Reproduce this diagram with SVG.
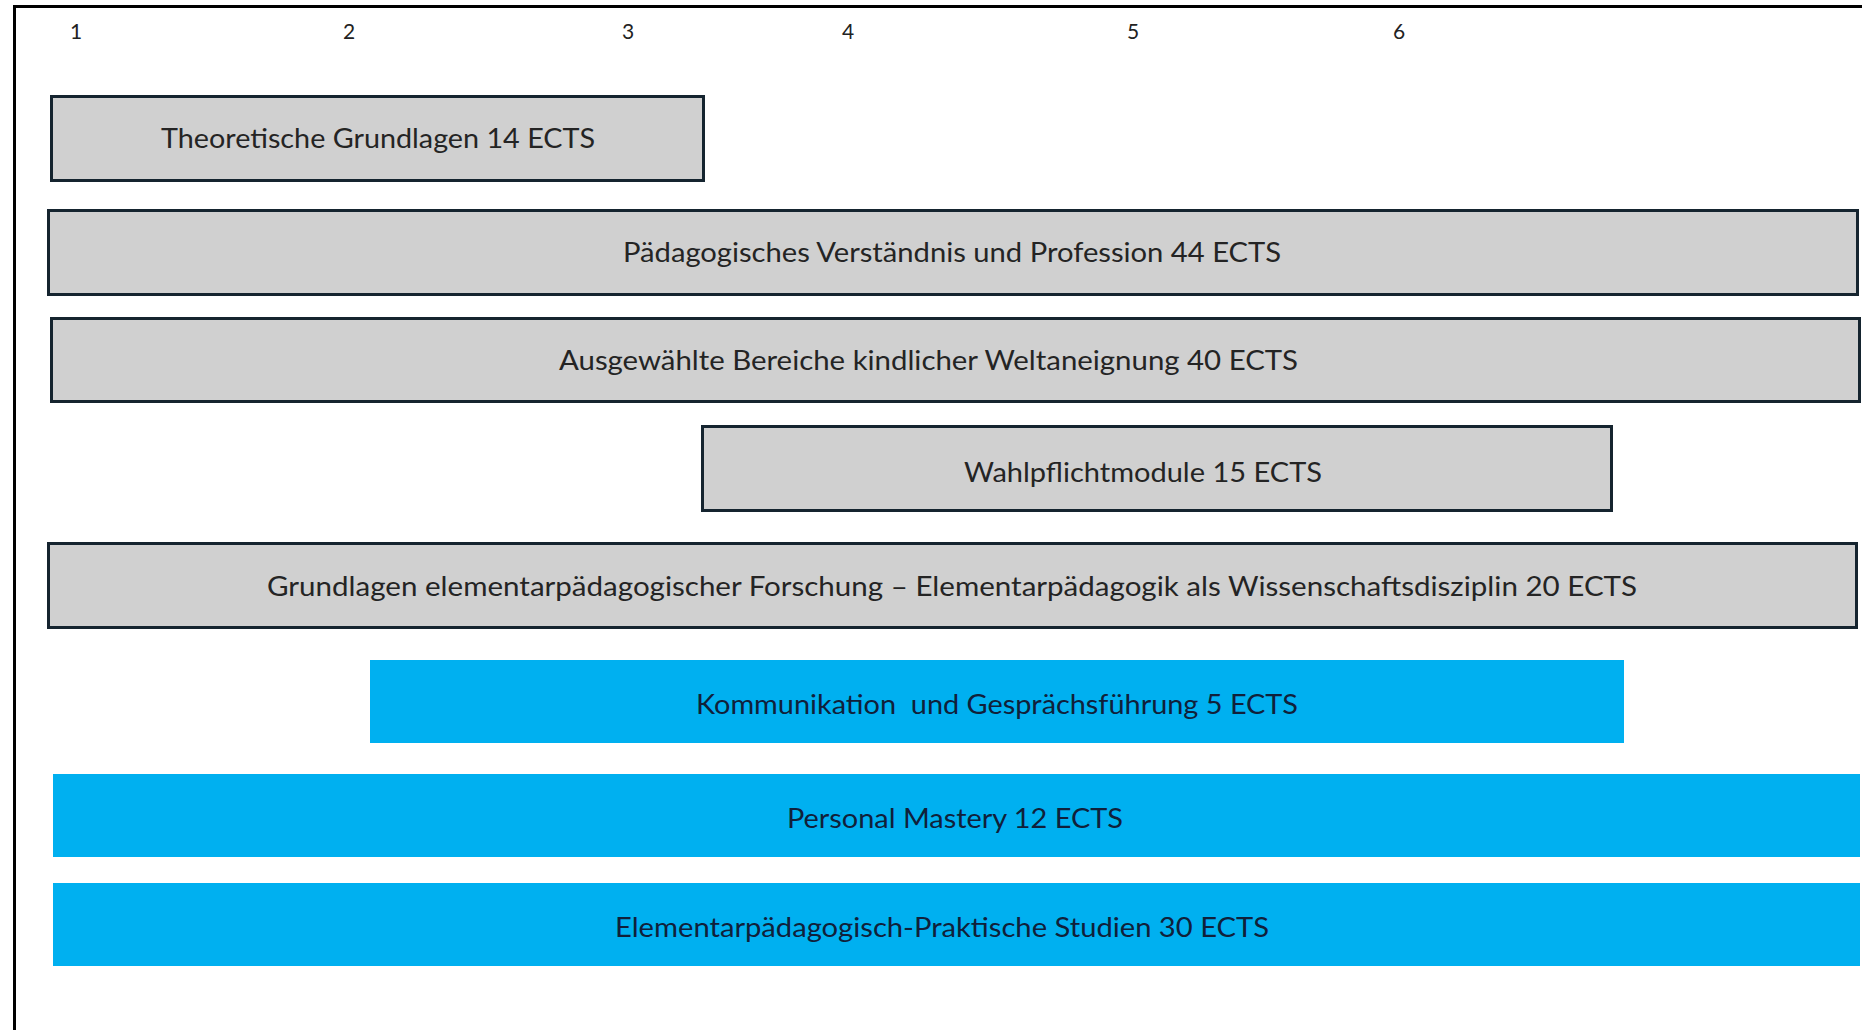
<svg xmlns="http://www.w3.org/2000/svg" width="1862" height="1030" viewBox="0 0 1862 1030">
<style>
.frame{fill:none;stroke:#000;stroke-width:3}
.grey{fill:#d0d0d0;stroke:#15242f;stroke-width:3}
.blue{fill:#00b0f0;stroke:none}
.num{font-family:Lato,"Liberation Sans",sans-serif;font-size:21px;fill:#222;text-anchor:middle}
.lbl{font-family:Lato,"Liberation Sans",sans-serif;font-size:26px;fill:#242424}
.lblb{font-family:Lato,"Liberation Sans",sans-serif;font-size:26px;fill:#10203a}
</style>
<rect x="0" y="0" width="1862" height="1030" fill="#fff"/>
<path class="frame" d="M14.5,1030 V6.5 H1862"/>
<g id="semesters">
<text class="num" x="76" y="39">1</text>
<text class="num" x="349" y="39">2</text>
<text class="num" x="628" y="39">3</text>
<text class="num" x="848" y="39">4</text>
<text class="num" x="1133" y="39">5</text>
<text class="num" x="1399" y="39">6</text>
</g>
<g id="connectors"></g>
<g id="theoretische">
<rect class="grey" x="51.5" y="96.5" width="652" height="84"/>
<text class="lbl" x="161" y="148" textLength="434" lengthAdjust="spacingAndGlyphs">Theoretische Grundlagen 14 ECTS</text>
</g>
<g id="paedagogisches">
<rect class="grey" x="48.5" y="210.5" width="1809" height="84"/>
<text class="lbl" x="623" y="262" textLength="658" lengthAdjust="spacingAndGlyphs">Pädagogisches Verständnis und Profession 44 ECTS</text>
</g>
<g id="ausgewaehlte">
<rect class="grey" x="51.5" y="318.5" width="1808" height="83"/>
<text class="lbl" x="559" y="370" textLength="739" lengthAdjust="spacingAndGlyphs">Ausgewählte Bereiche kindlicher Weltaneignung 40 ECTS</text>
</g>
<g id="wahlpflicht">
<rect class="grey" x="702.5" y="426.5" width="909" height="84"/>
<text class="lbl" x="964" y="482" textLength="358" lengthAdjust="spacingAndGlyphs">Wahlpflichtmodule 15 ECTS</text>
</g>
<g id="grundlagen">
<rect class="grey" x="48.5" y="543.5" width="1808" height="84"/>
<text class="lbl" x="267" y="596" textLength="1370" lengthAdjust="spacingAndGlyphs">Grundlagen elementarpädagogischer Forschung – Elementarpädagogik als Wissenschaftsdisziplin 20 ECTS</text>
</g>
<g id="kommunikation">
<rect class="blue" x="370" y="660" width="1254" height="83"/>
<text class="lblb" x="696" y="714" textLength="602" lengthAdjust="spacingAndGlyphs" xml:space="preserve">Kommunikation  und Gesprächsführung 5 ECTS</text>
</g>
<g id="personal">
<rect class="blue" x="53" y="774" width="1807" height="83"/>
<text class="lblb" x="787" y="828" textLength="336" lengthAdjust="spacingAndGlyphs">Personal Mastery 12 ECTS</text>
</g>
<g id="praktische">
<rect class="blue" x="53" y="883" width="1807" height="83"/>
<text class="lblb" x="615" y="937" textLength="654" lengthAdjust="spacingAndGlyphs">Elementarpädagogisch-Praktische Studien 30 ECTS</text>
</g>
</svg>
